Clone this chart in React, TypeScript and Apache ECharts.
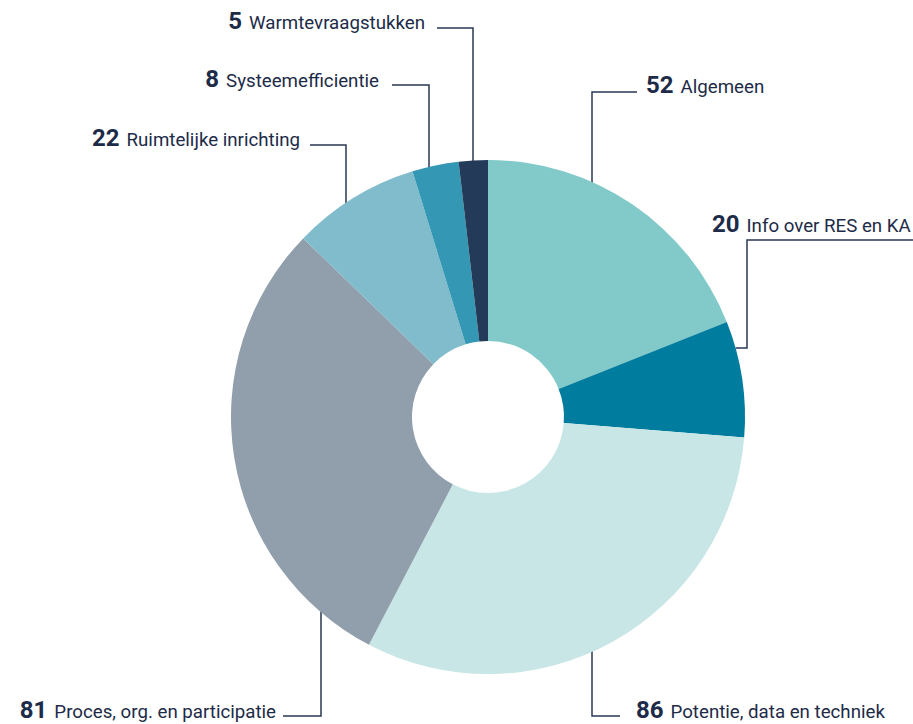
import React, { useEffect, useRef } from "react";
import * as echarts from "echarts";

const categories = [
  "Algemeen",
  "Info over RES en KA",
  "Potentie, data en techniek",
  "Proces, org. en participatie",
  "Ruimtelijke inrichting",
  "Systeemefficientie",
  "Warmtevraagstukken",
];
const values = [52, 20, 86, 81, 22, 8, 5];
const colors = ["#82CAC9", "#007C9E", "#C7E6E5", "#919EAB", "#80BCCC", "#3497B3", "#233B58"];

const CX = 488;
const CY = 417;
const R_IN = 76;
const R_OUT = 257;
const TEXT = "#1D2B48";

// leader-line layout per slice (positions only)
type Lay = {
  vx?: number;
  side?: "top" | "bottom";
  elbowY: number;
  endX: number;
  lx: number;
  ly: number;
  align: "left" | "right";
  hy?: number; // horizontal start at arc y
};
const layouts: Lay[] = [
  { vx: 592, side: "top", elbowY: 92, endX: 637, lx: 646, ly: 83, align: "left" },
  { hy: 348, vx: 747, elbowY: 240, endX: 913, lx: 712, ly: 222, align: "left" },
  { vx: 592, side: "bottom", elbowY: 716, endX: 620, lx: 636, ly: 708, align: "left" },
  { vx: 321, side: "bottom", elbowY: 716, endX: 283, lx: 276, ly: 708, align: "right" },
  { vx: 346, side: "top", elbowY: 145, endX: 310, lx: 300, ly: 136, align: "right" },
  { vx: 429, side: "top", elbowY: 85, endX: 392, lx: 379, ly: 77, align: "right" },
  { vx: 473, side: "top", elbowY: 28, endX: 437, lx: 425, ly: 19, align: "right" },
];

function linePoints(l: Lay): number[][] {
  if (l.hy !== undefined) {
    const dy = l.hy - CY;
    const ax = CX + Math.sqrt(R_OUT * R_OUT - dy * dy);
    return [
      [ax, l.hy],
      [l.vx as number, l.hy],
      [l.vx as number, l.elbowY],
      [l.endX, l.elbowY],
    ];
  }
  const dx = (l.vx as number) - CX;
  const h = Math.sqrt(R_OUT * R_OUT - dx * dx);
  const ay = l.side === "top" ? CY - h + 1 : CY + h - 1;
  return [
    [l.vx as number, ay],
    [l.vx as number, l.elbowY],
    [l.endX, l.elbowY],
  ];
}

export default function App() {
  const ref = useRef<HTMLDivElement>(null);
  useEffect(() => {
    if (!ref.current) return;
    const chart = echarts.init(ref.current, undefined, { renderer: "svg" });
    chart.setOption({
      animation: false,
      backgroundColor: "#ffffff",
      series: [
        {
          type: "pie",
          center: [CX, CY],
          radius: [R_IN, R_OUT],
          startAngle: 90,
          clockwise: true,
          silent: true,
          emphasis: { disabled: true },
          data: categories.map((c, i) => ({
            name: c,
            value: values[i],
            itemStyle: { color: colors[i] },
          })),
          label: {
            show: true,
            overflow: "none",
            formatter: (p: any) => `{n|${p.value}}{t|${p.name}}`,
            rich: {
              n: {
                fontFamily: "Roboto",
                fontWeight: "bold",
                fontSize: 24,
                color: TEXT,
                lineHeight: 28,
                verticalAlign: "bottom",
                padding: [0, 7, 0, 0],
              },
              t: {
                fontFamily: "Roboto",
                fontSize: 18.7,
                color: TEXT,
                lineHeight: 28,
                verticalAlign: "bottom",
                padding: [0, 0, 1, 0],
              },
            },
          },
          labelLine: {
            show: true,
            lineStyle: { color: "#2A3854", width: 1.5 },
          },
          labelLayout: (params: any) => {
            const l = layouts[params.dataIndex];
            return {
              x: l.lx,
              y: l.ly,
              align: l.align,
              verticalAlign: "middle",
              labelLinePoints: linePoints(l),
            };
          },
        },
      ],
    });
    return () => chart.dispose();
  }, []);
  return (
    <div
      ref={ref}
      style={{ position: "absolute", left: 0, top: 0, width: 913, height: 724 }}
    />
  );
}
